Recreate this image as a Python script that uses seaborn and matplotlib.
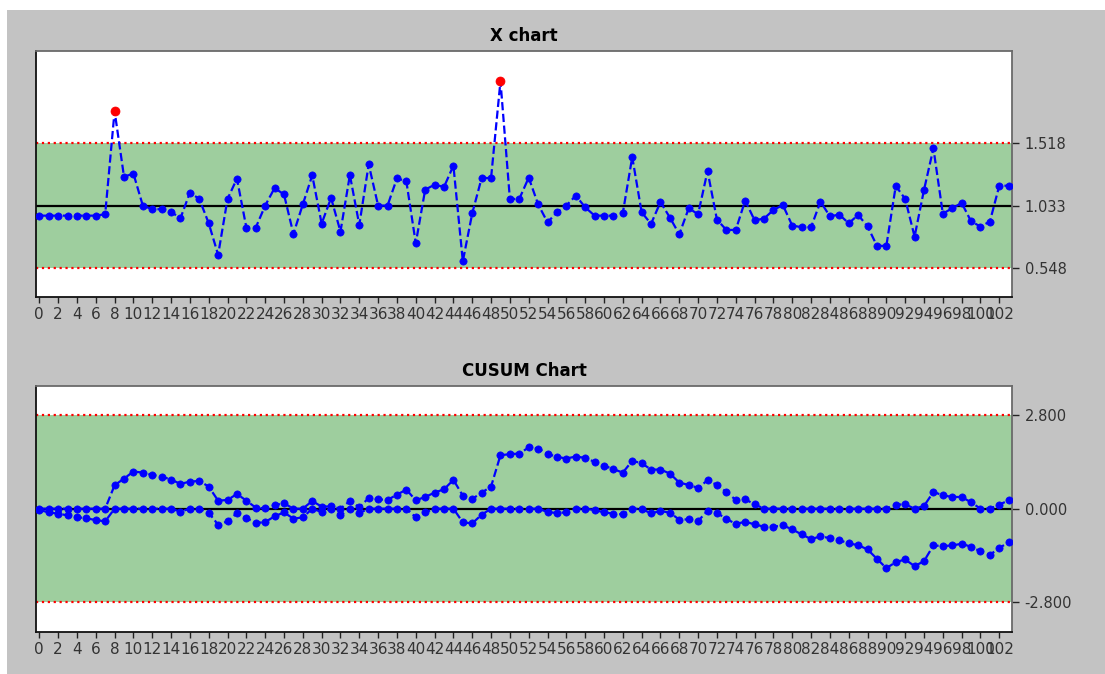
import numpy as np
import pandas as pd
import matplotlib
matplotlib.use("Agg")
import matplotlib.pyplot as plt
from matplotlib.patches import Rectangle
import seaborn as sns

# Individual measurements
x_values = [
    0.955, 0.955, 0.955, 0.955, 0.955, 0.955, 0.955, 0.966, 1.769, 1.258,
    1.282, 1.033, 1.005, 1.005, 0.984, 0.935, 1.134, 1.085, 0.896, 0.650,
    1.085, 1.243, 0.862, 0.862, 1.033, 1.170, 1.120, 0.813, 1.043, 1.269,
    0.893, 1.093, 0.831, 1.271, 0.883, 1.354, 1.033, 1.033, 1.245, 1.222,
    0.740, 1.157, 1.196, 1.178, 1.344, 0.600, 0.973, 1.248, 1.248, 2.002,
    1.085, 1.085, 1.251, 1.043, 0.903, 0.981, 1.033, 1.111, 1.020, 0.955,
    0.955, 0.955, 0.976, 1.411, 0.981, 0.891, 1.061, 0.940, 0.810, 1.012,
    0.966, 1.302, 0.924, 0.844, 0.844, 1.072, 0.919, 0.932, 0.999, 1.038,
    0.878, 0.865, 0.865, 1.064, 0.950, 0.963, 0.896, 0.960, 0.872, 0.720,
    0.720, 1.186, 1.085, 0.792, 1.155, 1.479, 0.971, 1.012, 1.054, 0.911,
    0.870, 0.909, 1.188, 1.188,
]

# Control limits of the X chart
x_center = 1.033
x_ucl = 1.518
x_lcl = 0.548

# Upper and lower cumulative sums
cusum_upper = [
    0.00, 0.00, 0.00, 0.00, 0.00, 0.00, 0.00, 0.00, 0.70, 0.90,
    1.11, 1.08, 1.01, 0.96, 0.87, 0.74, 0.81, 0.83, 0.66, 0.24,
    0.26, 0.44, 0.24, 0.03, 0.01, 0.11, 0.16, 0.00, 0.00, 0.23,
    0.06, 0.07, 0.00, 0.23, 0.04, 0.32, 0.28, 0.26, 0.42, 0.57,
    0.25, 0.35, 0.48, 0.58, 0.86, 0.39, 0.29, 0.48, 0.66, 1.60,
    1.63, 1.65, 1.83, 1.80, 1.64, 1.55, 1.50, 1.56, 1.52, 1.40,
    1.29, 1.18, 1.08, 1.43, 1.36, 1.17, 1.17, 1.05, 0.78, 0.71,
    0.62, 0.85, 0.71, 0.50, 0.26, 0.28, 0.13, 0.00, 0.00, 0.00,
    0.00, 0.00, 0.00, 0.00, 0.00, 0.00, 0.00, 0.00, 0.00, 0.00,
    0.00, 0.12, 0.13, 0.00, 0.08, 0.50, 0.40, 0.35, 0.35, 0.19,
    0.00, 0.00, 0.12, 0.25,
]
cusum_lower = [
    -0.04, -0.11, -0.15, -0.20, -0.25, -0.29, -0.34, -0.38, 0.00, 0.00,
    0.00, 0.00, 0.00, 0.00, 0.00, -0.09, 0.00, 0.00, -0.12, -0.48,
    -0.38, -0.13, -0.28, -0.43, -0.40, -0.23, -0.11, -0.30, -0.26, 0.00,
    -0.10, 0.00, -0.20, 0.00, -0.13, 0.00, 0.00, 0.00, 0.00, 0.00,
    -0.26, -0.11, 0.00, 0.00, 0.00, -0.41, -0.44, -0.18, 0.00, 0.00,
    0.00, 0.00, 0.00, 0.00, -0.10, -0.13, -0.11, 0.00, 0.00, -0.04,
    -0.11, -0.15, -0.17, 0.00, -0.01, -0.14, -0.07, -0.12, -0.33, -0.32,
    -0.37, -0.06, -0.13, -0.30, -0.46, -0.39, -0.47, -0.54, -0.54, -0.50,
    -0.62, -0.77, -0.91, -0.83, -0.88, -0.94, -1.04, -1.09, -1.22, -1.50,
    -1.78, -1.60, -1.52, -1.72, -1.57, -1.10, -1.12, -1.10, -1.05, -1.14,
    -1.28, -1.38, -1.18, -1.00,
]

# Decision interval of the CUSUM chart
cusum_center = 0.0
cusum_h = 2.8

n = len(x_values)
samples = np.arange(n)
xdf = pd.DataFrame({"sample": samples, "value": x_values})
cdf = pd.DataFrame({"sample": samples, "upper": cusum_upper, "lower": cusum_lower})
out_of_control = xdf[(xdf["value"] > x_ucl) | (xdf["value"] < x_lcl)]

plt.rcParams["font.family"] = ["DejaVu Sans"]

W, H = 1105, 674
fig = plt.figure(figsize=(W / 100, H / 100), dpi=100, facecolor="white")
fig.add_artist(Rectangle((7 / W, 0), 1 - 7 / W, (H - 10) / H,
                         transform=fig.transFigure, facecolor="#c3c3c3",
                         edgecolor="none", zorder=-10))

left, right = 36 / W, 1012 / W
ax_x = fig.add_axes([left, (H - 297) / H, right - left, 246 / H])
ax_c = fig.add_axes([left, (H - 632) / H, right - left, 246 / H])

line_kw = dict(color="blue", linestyle="--", linewidth=1.6, marker="o",
               markersize=5.2, markeredgecolor="blue", markeredgewidth=0.5,
               sort=False, errorbar=None)


def style_axes(ax, center, lcl, ucl, ylim, fmt):
    ax.set_facecolor("white")
    ax.axhspan(lcl, ucl, color="green", alpha=0.38, linewidth=0, zorder=0)
    ax.axhline(ucl, color="red", linestyle=":", linewidth=1.6, zorder=1)
    ax.axhline(lcl, color="red", linestyle=":", linewidth=1.6, zorder=1)
    ax.axhline(center, color="black", linewidth=1.6, zorder=1)
    ax.set_xlim(-0.35, n - 1 + 0.35)
    ax.set_ylim(*ylim)
    ax.set_xticks(np.arange(0, n, 2))
    ax.set_xticklabels([str(v) for v in np.arange(0, n, 2)])
    ax.yaxis.tick_right()
    ax.set_yticks([lcl, center, ucl])
    ax.set_yticklabels([fmt.format(v) for v in (lcl, center, ucl)])
    ax.tick_params(axis="both", direction="out", length=4, width=1,
                   color="#222222", labelcolor="#333333")
    ax.tick_params(axis="y", length=5, pad=4, labelsize=10.5)
    ax.tick_params(axis="x", pad=3, labelsize=11)
    ax.set_xlabel("")
    ax.set_ylabel("")
    ax.grid(False)
    for side in ("left", "bottom"):
        ax.spines[side].set_color("#111111")
        ax.spines[side].set_linewidth(1.3)
    for side in ("top", "right"):
        ax.spines[side].set_color("#6a6a6a")
        ax.spines[side].set_linewidth(1.3)


# X chart
style_axes(ax_x, x_center, x_lcl, x_ucl, (0.322, 2.236), "{:.3f}")
sns.lineplot(data=xdf, x="sample", y="value", ax=ax_x, zorder=3, **line_kw)
sns.scatterplot(data=out_of_control, x="sample", y="value", ax=ax_x,
                color="red", s=42, edgecolor="red", linewidth=0.5, zorder=4)
ax_x.set_xlabel("")
ax_x.set_ylabel("")
ax_x.set_title("X chart", fontsize=12, fontweight="bold", pad=7)

# CUSUM chart
style_axes(ax_c, cusum_center, -cusum_h, cusum_h, (-3.69, 3.67), "{:.3f}")
sns.lineplot(data=cdf, x="sample", y="upper", ax=ax_c, zorder=3, **line_kw)
sns.lineplot(data=cdf, x="sample", y="lower", ax=ax_c, zorder=3, **line_kw)
ax_c.set_xlabel("")
ax_c.set_ylabel("")
ax_c.set_title("CUSUM Chart", fontsize=12, fontweight="bold", pad=7)

fig.savefig("out.png", dpi=100, facecolor=fig.get_facecolor())
